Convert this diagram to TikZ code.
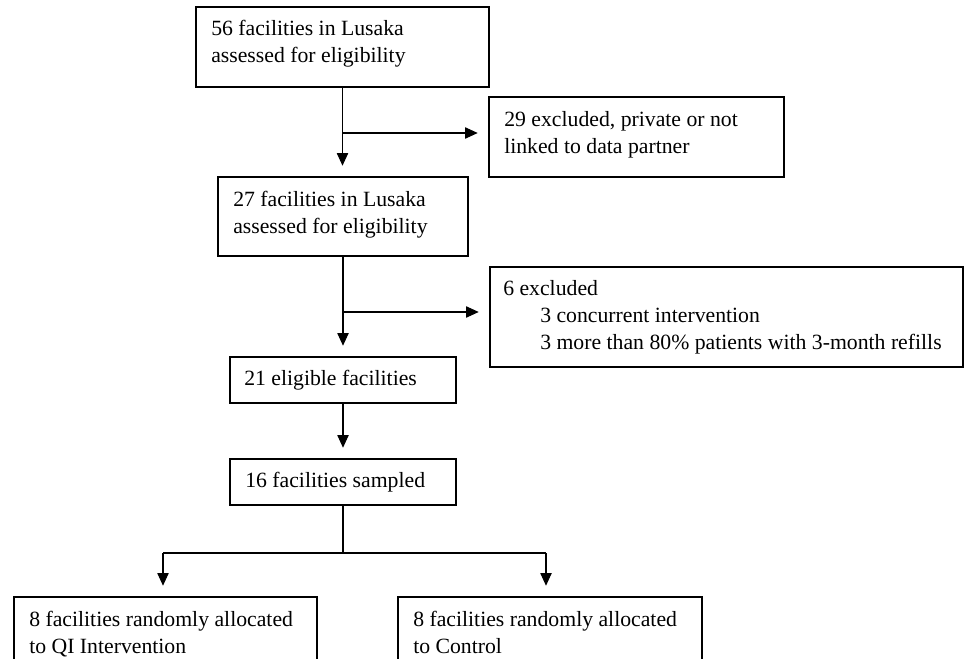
\documentclass[tikz,border=0pt]{standalone}
\usepackage{fontspec}
\setmainfont{Liberation Serif}
\usetikzlibrary{arrows.meta,fit}
\begin{document}
\begin{tikzpicture}[x=0.75pt,y=-0.75pt,
  boxst/.style={draw, line width=0.9pt, inner sep=0pt, fit={#1}},
  txt/.style={anchor=north west, inner sep=0pt, align=left, font=\fontsize{16.3}{20.25}\selectfont},
  line/.style={line width=0.8pt},
  arr/.style={line width=0.8pt, -{Triangle[length=9.5pt,width=8.5pt]}, shorten >=8pt}]
\useasboundingbox (0,0) rectangle (966,659);
\clip (0,0) rectangle (966,659);
\fill[white] (0,0) rectangle (966,659);
% boxes
\node[boxst={(196,7) (489,87)}] (b1) {};
\node[boxst={(489,97) (784,177)}] (b2) {};
\node[boxst={(218,177) (468,256)}] (b3) {};
\node[boxst={(490,267) (963,367)}] (b4) {};
\node[boxst={(230,357) (456,403)}] (b5) {};
\node[boxst={(230,459) (456,505)}] (b6) {};
\node[boxst={(14,597) (317,690)}] (b7) {};
\node[boxst={(398,597) (702,690)}] (b8) {};
% texts
\node[txt] (t1) at (211,20) {56 facilities in Lusaka\\assessed for eligibility};
\node[txt] (t2) at (504,111) {29 excluded, private or not\\linked to data partner};
\node[txt] (t3) at (233,191) {27 facilities in Lusaka\\assessed for eligibility};
\node[txt] (t4) at (503,280) {6 excluded\\\hspace*{27.75pt}3 concurrent intervention\\\hspace*{27.75pt}3 more than 80\% patients with 3-month refills};
\node[txt] (t5) at (244,370) {21 eligible facilities};
\node[txt] (t6) at (245,472) {16 facilities sampled};
\node[txt] (t7) at (29,611) {8 facilities randomly allocated\\to QI Intervention};
\node[txt] (t8) at (413,611) {8 facilities randomly allocated\\to Control};
% junctions
\coordinate (j1) at (343,133);
\coordinate (j2) at (343,312);
\coordinate (j3) at (343,553);
\coordinate (ja) at (163,553);
\coordinate (jb) at (546,553);
% connectors
\draw[arr] (b1.south) -- (b1.south |- b3.north);
\draw[arr] (j1) -- (j1 -| b2.west);
\draw[arr] (b3.south) -- (b3.south |- b5.north);
\draw[arr] (j2) -- (j2 -| b4.west);
\draw[arr] (b5.south) -- (b6.north);
\draw[line] (b6.south) -- (j3);
\draw[line] (ja) -- (jb);
\draw[arr] (ja) -- (ja |- b7.north);
\draw[arr] (jb) -- (jb |- b8.north);
\end{tikzpicture}
\end{document}
